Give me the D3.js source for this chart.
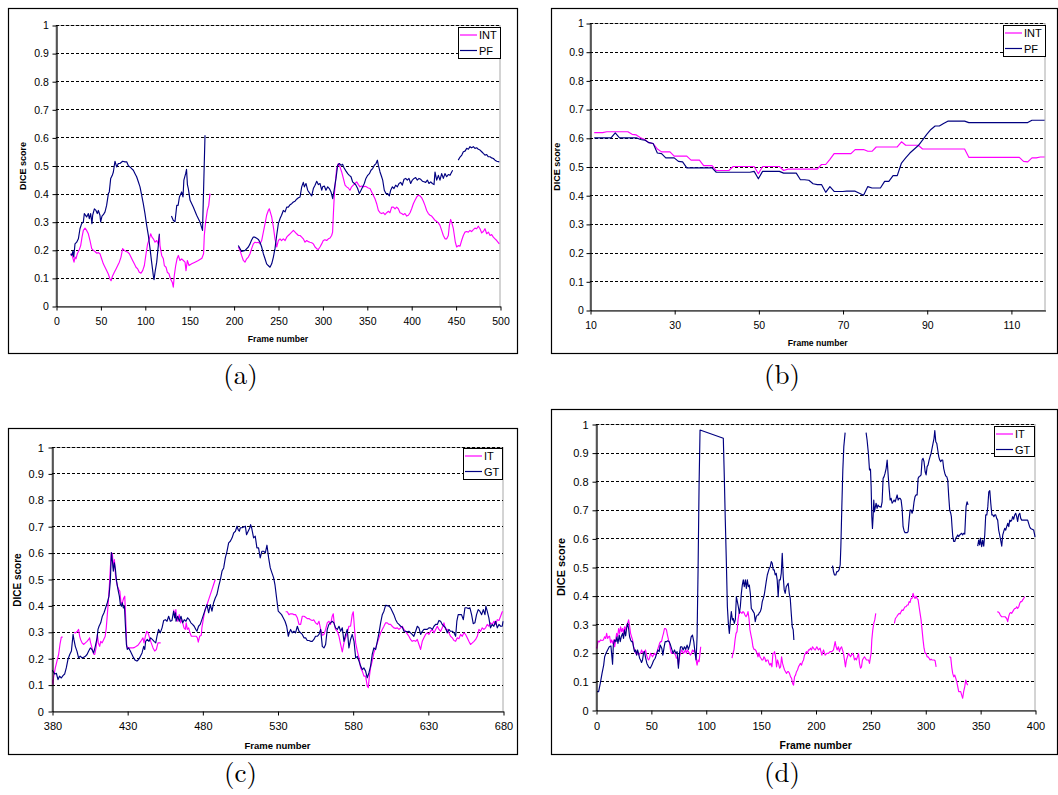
<!DOCTYPE html>
<html><head><meta charset="utf-8">
<script src="https://cdn.jsdelivr.net/npm/d3@7"></script>
<style>
html,body{margin:0;padding:0;background:#fff;}
svg{display:block;}
</style></head>
<body>
<svg id="chart" width="1058" height="795"></svg>
<script>
// ---------- tick labels / categories ----------
const yTickValues = [0,0.1,0.2,0.3,0.4,0.5,0.6,0.7,0.8,0.9,1];
const yTickLabels = ["0","0.1","0.2","0.3","0.4","0.5","0.6","0.7","0.8","0.9","1"];
const xTicksA = [0,50,100,150,200,250,300,350,400,450,500];
const xTicksB = [10,30,50,70,90,110];
const xTicksC = [380,430,480,530,580,630,680];
const xTicksD = [0,50,100,150,200,250,300,350,400];
const legendAB = ["INT","PF"];
const legendCD = ["IT","GT"];
const captions = ["(a)","(b)","(c)","(d)"];
const xTitle = "Frame number";
const yTitle = "DICE score";

// ---------- panel (a): [frame, DICE] pairs, null = gap ----------
const aINT = [[16.5,0.18],[17.6,0.186],[18.7,0.174],[20.3,0.156],[21.4,0.174],[22.5,0.168],[24,0.186],[25.9,0.198],[27.8,0.215],[29.3,0.245],[30.8,0.269],[32.7,0.277],[34.5,0.269],[36.4,0.257],[38.3,0.233],[40.2,0.204],[42,0.198],[43.9,0.194],[45.8,0.188],[47.7,0.19],[49.5,0.186],[51.4,0.168],[53.3,0.15],[55.2,0.138],[57,0.126],[58.9,0.114],[60.8,0.096],[62,0.09],[63.8,0.108],[65.7,0.12],[67.6,0.132],[69.5,0.144],[71.3,0.156],[73.2,0.174],[75,0.204],[76.9,0.198],[78.8,0.194],[80.7,0.192],[82.6,0.186],[84.4,0.174],[86.3,0.162],[88.2,0.15],[90.1,0.138],[92,0.132],[93.8,0.12],[95.7,0.117],[97.6,0.126],[99.5,0.144],[101.4,0.186],[103.2,0.221],[105.1,0.239],[106.6,0.257],[108.1,0.245],[109.6,0.239],[111.5,0.227],[113.4,0.233],[115.2,0.221],[116.4,0.251],[117.1,0.215],[119,0.18],[120.9,0.168],[122,0.144],[123.9,0.138],[125.4,0.12],[127.3,0.114],[129,0.096],[131,0.084],[132.1,0.067],[133.2,0.108],[134.8,0.144],[136.3,0.168],[137.8,0.18],[139.6,0.162],[141.5,0.168],[143.4,0.162],[145.3,0.156],[146.4,0.126],[147.9,0.162],[149.8,0.144],[152.8,0.15],[156.5,0.156],[160.3,0.162],[164.3,0.17],[166.2,0.186],[167,0.251],[168.5,0.299],[170.4,0.34],[172,0.358],[173.4,0.4],
null,
[205.3,0.21],[207.2,0.198],[209,0.18],[211,0.162],[212.8,0.156],[214.7,0.168],[216.6,0.174],[218.5,0.186],[220.3,0.204],[222.2,0.221],[224.1,0.227],[226,0.225],[227.9,0.227],[229.7,0.221],[231.6,0.233],[233.5,0.263],[235.4,0.293],[237.2,0.323],[239.1,0.34],[240.2,0.346],[242.9,0.317],[244.8,0.281],[246.6,0.239],[248.5,0.21],[250.4,0.233],[252.3,0.239],[254,0.233],[256,0.239],[258,0.233],[259.8,0.245],[261.6,0.251],[263.5,0.257],[265.4,0.263],[267.3,0.269],[269.2,0.263],[271,0.257],[273,0.251],[274.8,0.251],[276.7,0.245],[278.5,0.239],[280.4,0.227],[282.3,0.233],[284.2,0.229],[286,0.227],[288,0.225],[289.8,0.221],[291.7,0.21],[293.6,0.204],[295.4,0.201],[297.3,0.21],[299.2,0.221],[301,0.233],[302.9,0.236],[304.8,0.233],[306.7,0.239],[308.6,0.242],[310.4,0.251],[311.5,0.263],[312.3,0.323],[313.4,0.394],[315,0.454],[316,0.489],[318,0.507],[319.8,0.495],[321.7,0.477],[323.6,0.454],[325.5,0.43],[327.3,0.424],[329.2,0.42],[331,0.412],[332.9,0.424],[334.8,0.43],[336.7,0.436],[338.6,0.442],[340.5,0.432],[342.3,0.424],[344.2,0.427],[346,0.424],[348,0.426],[349.8,0.424],[351.7,0.42],[353.6,0.418],[355.5,0.406],[357.3,0.394],[359.2,0.382],[361.1,0.364],[363,0.34],[364.9,0.332],[366.7,0.329],[368.6,0.332],[370.5,0.325],[372.4,0.332],[374.3,0.337],[376.1,0.332],[378,0.352],[379.9,0.352],[381.8,0.346],[383.6,0.352],[385.5,0.346],[387.4,0.332],[389.3,0.329],[391.1,0.325],[393,0.329],[394.9,0.32],[396.8,0.323],[398.7,0.332],[400.5,0.346],[402.4,0.364],[404.3,0.376],[406.2,0.388],[408,0.394],[409.9,0.392],[411.8,0.385],[413.7,0.373],[415.5,0.358],[417.4,0.34],[419.3,0.329],[421.2,0.323],[423,0.32],[424.9,0.313],[426.8,0.305],[428.7,0.301],[430.6,0.296],[432.4,0.287],[434.3,0.269],[436.2,0.251],[438.1,0.239],[440,0.239],[441.8,0.251],[443,0.287],[444.4,0.308],[446,0.293],[447.5,0.275],[448.6,0.251],[449.7,0.227],[451.2,0.21],[453,0.215],[455,0.213],[456.8,0.233],[458.7,0.251],[460.6,0.263],[462.4,0.265],[464.3,0.263],[466.2,0.269],[468,0.265],[470,0.272],[471.8,0.277],[473.7,0.275],[475.6,0.284],[477.5,0.275],[479.4,0.26],[481.2,0.265],[483.1,0.275],[485,0.257],[486.9,0.263],[488.8,0.251],[490.6,0.254],[492.5,0.245],[494.4,0.239],[496.3,0.233],[499.2,0.221]];

const aPF = [[16.5,0.186],[18,0.18],[19,0.195],[20,0.175],[21.4,0.221],[23.3,0.227],[25.2,0.239],[27,0.275],[28.9,0.293],[30.8,0.299],[31.9,0.329],[34.5,0.317],[36.4,0.329],[37.5,0.311],[39,0.329],[40.5,0.293],[41.3,0.323],[43.2,0.346],[45,0.34],[46.5,0.329],[47.7,0.34],[49.5,0.323],[50.3,0.299],[51.8,0.32],[53.3,0.325],[55.2,0.335],[57,0.358],[59,0.4],[60,0.406],[61.6,0.454],[63.4,0.465],[64.6,0.477],[66.4,0.515],[68.3,0.495],[70.2,0.507],[72,0.507],[75,0.515],[77.7,0.513],[79.6,0.513],[81.5,0.499],[83.3,0.495],[85.2,0.489],[87.1,0.483],[89,0.471],[90.8,0.46],[92.7,0.442],[94.6,0.424],[96.5,0.394],[98.3,0.364],[100.2,0.329],[102.1,0.287],[104,0.251],[105.9,0.204],[107.7,0.156],[109.6,0.108],[110.4,0.094],[111.5,0.12],[113.4,0.156],[115.2,0.215],[116.4,0.257],
null,
[130,0.32],[132,0.305],[134,0.3],[136,0.358],[137.5,0.358],[139,0.388],[141.5,0.406],[143,0.388],[144,0.448],[146,0.471],[147,0.486],[148,0.432],[149,0.418],[151,0.376],[154.6,0.352],[158.4,0.323],[162,0.3],[165,0.269],[167.8,0.608],
null,
[205.3,0.215],[209,0.194],[213,0.198],[216.6,0.21],[218.5,0.221],[220,0.233],[222,0.245],[224,0.245],[226,0.241],[227.9,0.237],[229.7,0.227],[231.6,0.21],[233.5,0.186],[235.4,0.168],[237.2,0.15],[239,0.144],[241,0.138],[242.9,0.15],[244.8,0.174],[246.6,0.204],[248.5,0.251],[250.4,0.293],[252.3,0.311],[254,0.323],[256,0.34],[258,0.335],[259.8,0.352],[261.6,0.352],[263.5,0.36],[265.4,0.364],[267.3,0.37],[269.2,0.373],[271,0.38],[273,0.385],[274.8,0.388],[276.7,0.424],[278.5,0.44],[279.7,0.424],[281.5,0.436],[283.4,0.412],[286,0.4],[288,0.392],[289.8,0.418],[291.7,0.43],[293.6,0.444],[295.4,0.432],[297.3,0.436],[299.2,0.412],[300.3,0.424],[302.2,0.427],[304,0.412],[306,0.424],[307.8,0.418],[309.7,0.406],[311.6,0.382],[313.5,0.418],[315.3,0.454],[317.2,0.501],[319,0.507],[321,0.501],[322.8,0.504],[324.3,0.492],[326.6,0.48],[328.5,0.471],[330.3,0.465],[332.2,0.46],[334,0.442],[336,0.436],[337.8,0.43],[339.7,0.418],[341.6,0.4],[343.5,0.412],[345.4,0.424],[347.2,0.436],[349,0.454],[351,0.465],[352.9,0.471],[354.7,0.483],[356.6,0.489],[358.5,0.501],[360.4,0.507],[361.9,0.519],[363,0.501],[364.9,0.477],[366.7,0.46],[367.9,0.448],[369.7,0.412],[371.6,0.4],[373.5,0.4],[375.4,0.392],[376.9,0.412],[378.8,0.424],[380.6,0.418],[382.5,0.43],[384.4,0.424],[386.3,0.436],[388.1,0.44],[390,0.43],[391.9,0.451],[393.8,0.454],[395.6,0.448],[397.5,0.454],[399.4,0.436],[401.3,0.448],[403.2,0.454],[405,0.457],[406.9,0.448],[408.8,0.454],[410.7,0.451],[412.6,0.444],[414.4,0.442],[416.3,0.44],[418.2,0.448],[420,0.436],[422,0.442],[423.8,0.436],[425.7,0.432],[426.8,0.477],[428.7,0.448],[430.6,0.465],[432.4,0.448],[434.3,0.471],[436.2,0.454],[438,0.471],[440,0.46],[441.8,0.468],[443.7,0.465],[445.6,0.477],[446.7,0.483],
null,
[453,0.519],[455,0.53],[457,0.537],[458.7,0.549],[460.6,0.551],[462.5,0.561],[464.4,0.558],[466.2,0.567],[468,0.563],[470,0.567],[471.8,0.561],[473.7,0.563],[475.6,0.558],[477.5,0.555],[479.4,0.549],[481.2,0.543],[483.1,0.537],[485,0.539],[486.9,0.531],[488.8,0.531],[490.6,0.527],[492.5,0.525],[494.4,0.519],[496.3,0.515],[499.2,0.513]];

// ---------- panel (b): one value per frame ----------
const bFrames = [11,12,13,14,15,16,17,18,19,20,21,22,23,24,25,26,27,28,29,30,31,32,33,34,35,36,37,38,39,40,41,42,43,44,45,46,47,48,49,50,51,52,53,54,55,56,57,58,59,60,61,62,63,64,65,66,67,68,69,70,71,72,73,74,75,76,77,78,79,80,81,82,83,84,85,86,87,88,89,90,91,92,93,94,95,96,97,98,99,100,101,102,103,104,105,106,107,108,109,110,111,112,113,114,115,116,117,118];
const bINT = [0.618,0.618,0.618,0.621,0.621,0.621,0.621,0.621,0.621,0.612,0.61,0.6,0.594,0.583,0.58,0.561,0.551,0.551,0.551,0.536,0.536,0.536,0.536,0.522,0.522,0.522,0.503,0.503,0.503,0.486,0.486,0.486,0.486,0.5,0.5,0.5,0.5,0.5,0.5,0.475,0.5,0.5,0.5,0.5,0.5,0.486,0.491,0.491,0.491,0.491,0.491,0.491,0.491,0.491,0.507,0.507,0.525,0.545,0.545,0.545,0.545,0.545,0.559,0.559,0.559,0.553,0.553,0.568,0.568,0.568,0.568,0.568,0.568,0.586,0.574,0.574,0.574,0.574,0.561,0.561,0.561,0.561,0.561,0.561,0.561,0.561,0.561,0.561,0.561,0.532,0.532,0.532,0.532,0.532,0.532,0.532,0.532,0.532,0.532,0.532,0.532,0.532,0.518,0.516,0.53,0.53,0.533,0.533];
const bPF = [0.6,0.6,0.6,0.6,0.6,0.617,0.6,0.6,0.6,0.6,0.6,0.594,0.592,0.583,0.58,0.547,0.545,0.53,0.53,0.53,0.518,0.516,0.495,0.495,0.495,0.495,0.495,0.495,0.495,0.48,0.48,0.48,0.48,0.48,0.48,0.48,0.48,0.48,0.483,0.457,0.483,0.483,0.483,0.483,0.483,0.477,0.477,0.477,0.477,0.454,0.454,0.452,0.44,0.437,0.437,0.41,0.43,0.413,0.413,0.413,0.414,0.414,0.414,0.407,0.4,0.43,0.425,0.425,0.425,0.448,0.448,0.468,0.468,0.512,0.53,0.547,0.56,0.573,0.592,0.612,0.629,0.641,0.641,0.65,0.658,0.658,0.658,0.658,0.658,0.653,0.653,0.653,0.653,0.653,0.653,0.653,0.653,0.653,0.653,0.653,0.653,0.653,0.653,0.653,0.661,0.661,0.661,0.661];

// ---------- panel (c) ----------
const cIT = [[380,0.119],[380.7,0.1],[381,0.125],[382.2,0.163],[383.3,0.189],[384.4,0.214],[385.3,0.252],[386.2,0.28],[387.1,0.28],
null,
[394.6,0.298],[395.7,0.296],[396.9,0.302],[397.7,0.309],[398.4,0.283],[399,0.271],[400,0.258],[401,0.252],[402.2,0.258],[403.3,0.264],[404.4,0.271],[405,0.277],[405.7,0.258],[406.6,0.239],[407.7,0.216],[408.4,0.214],[409.3,0.239],[410.2,0.29],[410.8,0.258],[411.7,0.245],[412.4,0.264],[413.3,0.258],[414.4,0.271],[415.4,0.283],[416.1,0.315],[416.8,0.365],[417.5,0.416],[418.2,0.479],[418.8,0.542],[419.5,0.6],[420.2,0.593],[420.8,0.542],[421.5,0.574],[422.2,0.517],[422.8,0.492],[423.5,0.473],[424.4,0.46],[425.1,0.454],[425.8,0.416],[426.5,0.403],[427.1,0.416],[427.7,0.428],[428.4,0.435],[429,0.353],[429.7,0.245],[430.6,0.239],[431.7,0.239],[432.8,0.239],[433.9,0.239],[435,0.241],[436.1,0.245],[437.2,0.249],[438.3,0.258],[439.4,0.267],[440.5,0.277],[441.2,0.258],[442.1,0.283],[443,0.302],[443.9,0.296],[444.9,0.277],[446,0.258],[447.2,0.239],[448.3,0.227],[449.4,0.233],[450.5,0.258],[451.6,0.258],[452.3,0.258],
null,
[460.9,0.384],[461.8,0.359],[462.4,0.384],[462.7,0.353],[463.6,0.34],[464.6,0.365],[465.5,0.334],[466.4,0.346],[467.8,0.315],[468.7,0.309],[469.3,0.334],[470,0.309],[470.9,0.315],[471.8,0.296],[472.7,0.283],[473.8,0.283],[474.9,0.283],[476,0.283],[476.7,0.277],[477.3,0.261],[478.2,0.283],[479.3,0.287],[479.7,0.315],[480.8,0.353],[481.9,0.384],[483.1,0.403],[484.2,0.422],[485.3,0.441],[486.4,0.46],[487.5,0.479],[488.6,0.498],
null,
[535.4,0.376],[536.5,0.376],[537.6,0.365],[538.7,0.368],[539.8,0.368],[540.9,0.365],[542,0.365],[543.2,0.353],[544.3,0.328],[545.4,0.328],[546.5,0.359],[547.6,0.359],[548.7,0.355],[549.8,0.35],[550.9,0.35],[552,0.346],[553.1,0.343],[554.2,0.345],[555.3,0.334],[556.5,0.328],[557.6,0.34],[558.7,0.309],[559.8,0.287],[560.9,0.29],[562,0.309],[563.1,0.334],[564.2,0.34],[565.3,0.328],[566.4,0.359],[567.1,0.368],[567.8,0.328],[568.6,0.309],[569.8,0.302],[570.9,0.283],[572,0.252],[573.1,0.224],[574.2,0.258],[575.3,0.277],[576.4,0.296],[577.5,0.321],[578.6,0.321],[579.7,0.365],[580.4,0.376],[581.1,0.321],[582,0.258],[583.1,0.227],[584.2,0.201],[585.3,0.163],[586.4,0.151],[587.5,0.132],[588.6,0.132],[589.7,0.094],[590.4,0.088],[591,0.126],[591.9,0.163],[593,0.189],[594.1,0.22],[595.3,0.239],[596.4,0.258],[597.5,0.277],[598.6,0.296],[599.7,0.309],[600.8,0.321],[601.9,0.334],[603,0.334],[604.1,0.328],[605.2,0.328],[606.3,0.321],[607.4,0.315],[608.6,0.313],[609.7,0.315],[610.8,0.309],[611.9,0.315],[613,0.321],[614.1,0.309],[615.2,0.302],[616.3,0.292],[617.4,0.283],[618.5,0.271],[619.6,0.264],[620.7,0.267],[621.9,0.264],[623,0.271],[624.1,0.252],[625.2,0.233],[626.3,0.264],[627.4,0.277],[628.5,0.29],[629.6,0.296],[630.7,0.29],[631.8,0.302],[633,0.309],[634.1,0.296],[635.2,0.309],[636.3,0.321],[637.4,0.309],[638.5,0.302],[639.6,0.315],[640.7,0.334],[641.8,0.309],[643,0.309],[644,0.296],[645.1,0.283],[646.3,0.277],[647.4,0.267],[648.5,0.264],[649.6,0.277],[650.7,0.274],[651.8,0.29],[652.9,0.283],[654,0.296],[655.1,0.29],[656.2,0.277],[657.3,0.264],[658.4,0.252],[659.6,0.258],[660.7,0.264],[661.8,0.271],[662.9,0.283],[664,0.309],[665.1,0.302],[666.2,0.315],[667.3,0.309],[668.4,0.315],[669.5,0.328],[670.6,0.321],[671.7,0.334],[672.8,0.328],[674,0.34],[675.1,0.328],[676.2,0.346],[677.3,0.343],[678.4,0.359],[679.5,0.376],[680,0.376]];

const cGT = [[380,0.155],[380.7,0.15],[381.8,0.14],[382.9,0.143],[384,0.119],[385,0.132],[386.2,0.125],[387.3,0.134],[388.4,0.14],[389.5,0.163],[390.6,0.195],[391.8,0.214],[392.9,0.227],[394,0.29],[394.6,0.27],[395.5,0.245],[396.6,0.227],[397.7,0.201],[398.8,0.208],[400,0.201],[401.1,0.204],[402.2,0.207],[403.3,0.214],[404.4,0.227],[405.5,0.239],[406.6,0.233],[407.7,0.22],[408.8,0.245],[410,0.277],[410.6,0.309],[411.3,0.321],[412.4,0.334],[413.5,0.359],[414.6,0.372],[415.7,0.391],[416.8,0.41],[417.9,0.435],[418.8,0.492],[419.5,0.6],[420.2,0.567],[420.8,0.53],[421.5,0.561],[422.2,0.536],[422.8,0.498],[423.5,0.473],[424.1,0.454],[424.8,0.435],[425.5,0.403],[426.2,0.397],[426.8,0.41],[427.5,0.39],[428.2,0.397],[428.8,0.328],[429.5,0.252],[430.1,0.233],[431,0.239],[432.1,0.227],[433.2,0.214],[434.3,0.201],[435.4,0.192],[436.5,0.189],[437.6,0.195],[438.8,0.207],[439.9,0.22],[441,0.245],[441.7,0.233],[442.3,0.264],[443.4,0.271],[444.5,0.264],[445.6,0.277],[446.7,0.271],[447.9,0.264],[449,0.258],[449.8,0.283],[450.9,0.309],[452,0.296],[453.2,0.315],[454.3,0.343],[455.4,0.346],[456.5,0.34],[457.6,0.359],[458.7,0.34],[459.8,0.343],[460.9,0.378],[461.6,0.353],[462.2,0.372],[462.5,0.34],[463.6,0.359],[464.7,0.34],[465.8,0.359],[466.9,0.334],[468,0.346],[469.1,0.34],[470.2,0.353],[471.3,0.346],[472.4,0.334],[473.5,0.328],[474.6,0.321],[475.7,0.309],[476.4,0.302],[477.5,0.321],[478.6,0.328],[479.7,0.346],[480.8,0.365],[481.9,0.384],[483.1,0.403],[484.2,0.372],[485.3,0.403],[486.4,0.378],[487.5,0.41],[488.6,0.428],[489.7,0.441],[490.9,0.473],[492,0.498],[493.1,0.53],[494.2,0.542],[495.3,0.58],[496.4,0.605],[497.5,0.637],[498.6,0.643],[499.8,0.656],[500.9,0.675],[502,0.681],[503.1,0.7],[503.8,0.687],[504.6,0.681],[505.3,0.694],[506.4,0.694],[507.5,0.697],[508.6,0.7],[509.4,0.668],[510.5,0.681],[511.6,0.694],[512.1,0.706],[512.8,0.694],[514.1,0.656],[515.2,0.662],[516.3,0.618],[517.4,0.618],[518.5,0.58],[519.6,0.605],[520.8,0.605],[521.9,0.599],[523,0.628],[524.1,0.58],[525.2,0.542],[526.3,0.523],[527.4,0.505],[528.3,0.479],[529.4,0.428],[530.5,0.378],[531.6,0.372],[532.7,0.365],[533.8,0.353],[535,0.34],[536.1,0.321],[537.2,0.283],[537.8,0.296],[538.7,0.309],[539.8,0.296],[540.9,0.302],[542,0.296],[543.2,0.321],[544.3,0.302],[545.4,0.296],[546.5,0.29],[547.6,0.277],[548.7,0.277],[549.8,0.267],[550.9,0.267],[552,0.264],[553.1,0.264],[554.2,0.271],[555.3,0.283],[556.5,0.283],[557.6,0.29],[558.7,0.309],[559.8,0.245],[560.9,0.239],[562,0.252],[563.1,0.309],[564.2,0.328],[565.3,0.334],[566.4,0.34],[567.5,0.334],[568.6,0.315],[569.8,0.309],[570.9,0.321],[572,0.302],[573.1,0.315],[574.2,0.264],[575.3,0.29],[576.4,0.309],[577.5,0.239],[578.6,0.271],[579.7,0.29],[580.9,0.264],[582,0.201],[583.1,0.207],[584.2,0.189],[585.3,0.17],[586.4,0.157],[587.5,0.163],[588.6,0.151],[589.7,0.126],[590.8,0.144],[591.9,0.17],[593,0.214],[594.1,0.239],[595.3,0.233],[596.4,0.264],[597.5,0.296],[598.6,0.334],[599.7,0.365],[600.8,0.378],[601.9,0.4],[603,0.399],[604.1,0.397],[605.2,0.391],[606.3,0.378],[607.4,0.365],[608.6,0.346],[609.7,0.334],[610.8,0.328],[611.9,0.321],[613,0.318],[614.1,0.302],[615.2,0.302],[616.3,0.3],[617.4,0.302],[618.5,0.296],[619.6,0.29],[620.7,0.283],[621.9,0.302],[623,0.321],[624.1,0.315],[625.2,0.29],[626.3,0.302],[627.4,0.309],[628.5,0.309],[629.6,0.309],[630.7,0.315],[631.8,0.315],[633,0.309],[634.1,0.321],[635.2,0.328],[636.3,0.328],[637.4,0.343],[638.5,0.34],[639.6,0.328],[640.7,0.321],[641.8,0.315],[642.9,0.296],[644,0.309],[645.1,0.302],[646.3,0.302],[647.4,0.296],[648.5,0.283],[649.3,0.34],[650.2,0.365],[651.3,0.365],[652.4,0.365],[653.6,0.346],[654.7,0.391],[655.8,0.391],[656.9,0.388],[658,0.391],[659.1,0.365],[660.2,0.331],[661.3,0.334],[662.4,0.365],[663.5,0.384],[664.6,0.378],[665.8,0.365],[666.9,0.384],[668,0.365],[668.6,0.397],[669.5,0.378],[670.6,0.353],[671.7,0.315],[672.8,0.328],[673.9,0.321],[675.1,0.34],[676.2,0.315],[677.3,0.328],[678.4,0.321],[679.5,0.321],[680,0.34]];

// ---------- panel (d) ----------
const dIT = [[0,0.22],[0.9,0.216],[1.8,0.241],[3,0.238],[4.2,0.245],[5.5,0.243],[6.7,0.245],[7.9,0.256],[8.8,0.25],[9.7,0.268],[10.6,0.25],[11.5,0.256],[12.4,0.258],[13.3,0.235],[14.2,0.245],[15.2,0.233],[16.1,0.245],[17,0.221],[17.9,0.245],[18.8,0.268],[19.7,0.256],[20.6,0.285],[21.5,0.268],[22.4,0.291],[23.3,0.274],[24.2,0.285],[25.1,0.268],[26,0.291],[27,0.28],[27.9,0.297],[28.8,0.303],[29.7,0.315],[30.6,0.294],[31.5,0.268],[32.4,0.256],[33.3,0.245],[34.2,0.221],[35.1,0.21],[36.1,0.198],[37,0.204],[37.9,0.198],[38.8,0.192],[39.7,0.198],[40.6,0.198],[41.5,0.21],[42.4,0.2],[43.3,0.204],[44.2,0.204],[45.1,0.21],[46.1,0.192],[47,0.181],[47.9,0.175],[48.8,0.181],[49.7,0.198],[50.6,0.192],[51.5,0.186],[52.4,0.192],[53.3,0.198],[54.2,0.192],[55.2,0.198],[56.1,0.21],[57,0.221],[57.9,0.233],[58.8,0.239],[59.7,0.239],[60.6,0.256],[61.5,0.268],[62.4,0.285],[63.3,0.285],[64.2,0.28],[65.1,0.262],[66.1,0.245],[67,0.233],[67.9,0.21],[68.8,0.198],[69.7,0.204],[70.6,0.198],[71.5,0.198],[72.4,0.192],[73.3,0.181],[74.2,0.186],[75.1,0.157],[76.1,0.186],[77,0.198],[77.9,0.21],[78.8,0.204],[79.7,0.198],[80.6,0.204],[81.5,0.21],[82.4,0.198],[83.3,0.21],[84.2,0.204],[85.1,0.198],[86.1,0.192],[87,0.198],[87.9,0.21],[88.8,0.204],[89.7,0.21],[90.6,0.198],[91.2,0.175],[92.1,0.157],[93,0.175],[93.9,0.169],[94.8,0.198],[95.4,0.221],
null,
[123.9,0.181],[124.8,0.198],[125.7,0.21],[126.7,0.245],[127.6,0.268],[128.5,0.274],[129.4,0.315],[130.3,0.338],[131.2,0.344],[132.1,0.341],[133,0.338],[133.9,0.344],[134.8,0.341],[135.7,0.332],[136.7,0.326],[137.6,0.332],[138.5,0.344],[139.4,0.32],[140.3,0.28],[141.2,0.262],[142.1,0.245],[143,0.221],[143.9,0.212],[144.8,0.212],[145.8,0.207],[146.7,0.198],[147.6,0.186],[148.5,0.2],[149.4,0.186],[150.3,0.181],[151.2,0.175],[152.1,0.175],[153,0.186],[153.9,0.181],[154.8,0.169],[155.8,0.175],[156.7,0.175],[157.6,0.163],[158.5,0.157],[159.4,0.163],[160.3,0.151],[161.2,0.198],[162.1,0.198],[162.7,0.204],[163.6,0.186],[164.5,0.151],[165.4,0.175],[166.3,0.163],[167.3,0.146],[168.2,0.151],[169.1,0.186],[170,0.163],[170.9,0.151],[171.8,0.14],[172.7,0.134],[173.6,0.128],[174.5,0.134],[175.4,0.134],[176.3,0.128],[177.3,0.116],[178.2,0.111],[179.1,0.093],[180,0.087],[180.9,0.116],[181.8,0.122],[182.7,0.134],[183.6,0.14],[184.5,0.151],[185.4,0.157],[186.3,0.163],[187.3,0.157],[188.2,0.169],[189.1,0.175],[190,0.192],[190.9,0.198],[191.8,0.204],[192.7,0.198],[193.6,0.21],[194.5,0.21],[195.4,0.216],[196.4,0.21],[197.3,0.221],[198.2,0.216],[199,0.212],[199.7,0.21],[201.2,0.221],[202.7,0.21],[204.2,0.216],[205.8,0.192],[207.3,0.21],[208.8,0.192],[210.3,0.198],[211.8,0.198],[213.3,0.204],[214.9,0.204],[216.4,0.21],[217.9,0.239],[218.8,0.221],[219.7,0.21],[220.9,0.221],[221.8,0.204],[222.8,0.216],[223.7,0.221],[224.6,0.21],[225.5,0.198],[226.4,0.175],[227.3,0.151],[228.2,0.175],[229.1,0.186],[230,0.198],[231,0.192],[231.9,0.186],[232.8,0.192],[233.7,0.198],[234.6,0.192],[235.5,0.175],[236.4,0.181],[237.3,0.175],[238.2,0.186],[239.2,0.198],[240.1,0.163],[241,0.146],[241.9,0.151],[242.8,0.175],[243.7,0.181],[244.6,0.186],[245.5,0.181],[246.4,0.175],[247.4,0.175],[248.3,0.175],[249.2,0.163],[250.1,0.186],[250.7,0.198],[251.3,0.245],[252.2,0.28],[253.1,0.303],[254,0.315],[254.9,0.338],
null,
[271.9,0.303],[272.8,0.32],[274,0.326],[274.9,0.332],[276.2,0.338],[277.1,0.336],[278,0.344],[278.9,0.35],[279.8,0.348],[280.7,0.355],[281.6,0.361],[282.5,0.361],[283.5,0.367],[284.4,0.367],[285.3,0.379],[286.2,0.376],[287.1,0.39],[288,0.39],[288.9,0.408],[289.8,0.396],[290.7,0.39],[291.7,0.398],[292.6,0.39],[293.5,0.385],[294.4,0.361],[295.3,0.338],[296.2,0.315],[297.1,0.28],[298,0.245],[298.9,0.216],[299.9,0.198],[300.8,0.198],[301.7,0.186],[302.6,0.186],[303.5,0.181],[304.4,0.175],[305.3,0.178],[306.2,0.175],[307.1,0.175],[308.1,0.175],[309,0.172],[309.9,0.151],
null,
[322,0.186],[323.2,0.184],[324.1,0.151],[325,0.128],[326,0.116],[326.9,0.122],[327.8,0.111],[328.7,0.099],[329.6,0.082],[330.5,0.064],[331.4,0.064],[332.3,0.064],[333.2,0.052],[334.1,0.041],[335,0.064],[336,0.082],[336.9,0.105],[337.8,0.093],[338.7,0.087],
null,
[365.7,0.344],[367.2,0.341],[368.4,0.332],[369.7,0.326],[371.2,0.326],[372.7,0.326],[374.2,0.32],[375.1,0.309],[376,0.326],[376.9,0.338],[377.9,0.341],[378.8,0.338],[379.7,0.344],[380.6,0.35],[381.5,0.355],[382.4,0.355],[383.3,0.361],[384.2,0.355],[385.2,0.361],[386.1,0.373],[387,0.379],[387.9,0.379],[388.8,0.385],[389.7,0.39],[390.6,0.396]];

const dGT = [[0.9,0.064],[2.4,0.064],[3.9,0.093],[5.5,0.128],[7,0.157],[7.9,0.186],[9.1,0.198],[10.6,0.21],[12.1,0.221],[13.6,0.224],[15.1,0.16],[15.8,0.228],[17,0.245],[18.2,0.239],[19.1,0.256],[20,0.233],[21.2,0.262],[22.1,0.239],[23,0.256],[24.2,0.268],[25.1,0.25],[26,0.28],[27,0.259],[27.9,0.285],[28.8,0.303],[29.7,0.285],[30.6,0.256],[31.5,0.245],[32.4,0.239],[33.3,0.239],[34.2,0.221],[35.1,0.204],[36.1,0.21],[37,0.192],[37.9,0.21],[38.8,0.198],[39.7,0.181],[40.6,0.175],[41.5,0.166],[42.4,0.175],[43.3,0.198],[44.2,0.204],[45.1,0.184],[46.4,0.163],[47.9,0.151],[49.4,0.146],[50.9,0.157],[52.4,0.172],[53.9,0.181],[55.4,0.198],[56.4,0.21],[57.6,0.204],[58.5,0.227],[60,0.215],[60.9,0.192],[62.1,0.221],[63,0.239],[64.2,0.239],[65.4,0.242],[66.7,0.239],[67.9,0.227],[69.1,0.212],[70.3,0.198],[71.5,0.21],[72.7,0.198],[73.9,0.204],[75.1,0.146],[76.1,0.198],[77,0.221],[78.2,0.221],[79.4,0.21],[80.6,0.221],[81.8,0.212],[83,0.227],[84.2,0.212],[85.4,0.227],[86.7,0.256],[87.9,0.262],[89.1,0.239],[90.3,0.198],[91.2,0.175],[92.1,0.256],[93,0.49],[93.9,0.781],[94.8,0.979],[116,0.95],[116.9,0.816],[117.8,0.664],[118.8,0.513],[119.7,0.361],[120.6,0.303],[121.5,0.268],[122.4,0.31],[123.3,0.344],[124.3,0.315],[125.1,0.32],[126,0.303],[127,0.317],[127.9,0.396],[128.8,0.379],[129.7,0.361],[130.6,0.338],[131.5,0.361],[132.4,0.406],[133.3,0.437],[134.2,0.455],[135.1,0.431],[136.1,0.455],[137,0.425],[137.9,0.455],[138.8,0.431],[139.7,0.437],[140.6,0.408],[141.5,0.355],[142.4,0.35],[143.3,0.344],[144.2,0.338],[145.1,0.309],[146,0.326],[147,0.332],[147.9,0.332],[148.8,0.34],[149.7,0.344],[150.6,0.355],[151.5,0.379],[152.4,0.39],[153.3,0.402],[154.2,0.425],[155.1,0.449],[156.1,0.472],[157,0.484],[157.9,0.495],[158.8,0.501],[159.7,0.519],[160.6,0.513],[161.5,0.49],[162.4,0.49],[163.3,0.472],[164.2,0.478],[165.1,0.455],[166,0.396],[166.9,0.455],[167.9,0.455],[168.8,0.478],[169.7,0.548],[170.6,0.466],[171.5,0.42],[172.4,0.408],[173.3,0.431],[174.2,0.437],[175.1,0.443],[176.1,0.408],[177,0.39],[177.9,0.338],[178.8,0.291],[179.7,0.28],[180.3,0.245],
null,
[215.5,0.505],[216.4,0.484],[217.3,0.472],[218.5,0.472],[219.4,0.484],[220.3,0.484],[221.5,0.49],[222.5,0.507],[223.1,0.571],[224,0.711],[224.9,0.839],[225.8,0.921],[227,0.97],
null,
[246.1,0.97],[247,0.944],[248.2,0.897],[249.2,0.839],[250.1,0.842],[250.7,0.781],[251.3,0.676],[251.9,0.635],[252.5,0.676],[253.1,0.734],[253.7,0.693],[254.3,0.705],[255.2,0.723],[256.1,0.705],[257,0.717],[258,0.711],[258.9,0.711],[259.8,0.709],[260.7,0.728],[261.6,0.81],[262.5,0.816],[263.4,0.828],[264.4,0.845],[265.3,0.874],[266.2,0.822],[267.1,0.775],[268,0.734],[268.9,0.74],[269.8,0.723],[270.7,0.728],[271.6,0.734],[272.6,0.728],[273.5,0.74],[274.4,0.752],[275.3,0.734],[276.2,0.74],[277.1,0.74],[278,0.734],[278.9,0.705],[279.8,0.641],[280.7,0.627],[281.6,0.62],[282.5,0.62],[283.5,0.62],[284.4,0.624],[285.3,0.664],[286.2,0.699],[287.1,0.699],[288,0.688],[288.9,0.699],[289.8,0.728],[290.7,0.746],[291.7,0.752],[292.6,0.752],[293.5,0.81],[294.4,0.816],[295.3,0.818],[296.2,0.822],[297.1,0.874],[298,0.88],[298.9,0.868],[299.9,0.833],[300.8,0.822],[301.7,0.851],[302.6,0.857],[303.5,0.874],[304.4,0.886],[305.3,0.897],[306.2,0.915],[307.1,0.932],[308,0.95],[308.7,0.977],[309.6,0.938],[310.5,0.932],[311.4,0.909],[312.3,0.886],[313.2,0.874],[314.1,0.868],[315,0.874],[315.9,0.874],[316.8,0.845],[317.8,0.828],[318.7,0.818],[319.6,0.816],[320.5,0.804],[321.4,0.746],[322.3,0.699],[323.2,0.688],[323.8,0.676],[324.4,0.641],[325.1,0.606],[326,0.589],[326.9,0.589],[327.8,0.6],[328.7,0.606],[329.6,0.612],[330.5,0.606],[331.4,0.612],[333.2,0.618],[334.1,0.612],[335,0.618],[336,0.615],[336.6,0.664],[337.2,0.711],[338.1,0.728],[339,0.717],
null,
[347.8,0.573],[348.7,0.594],[349.6,0.577],[350.2,0.601],[351.4,0.571],[352.3,0.594],[353.3,0.573],[354.2,0.612],[355.1,0.682],[356.1,0.682],[357,0.711],[357.9,0.763],[358.8,0.767],[359.7,0.723],[360.7,0.682],[361.6,0.682],[362.5,0.676],[363.3,0.682],[364.2,0.682],[365.1,0.67],[366,0.664],[366.9,0.629],[367.8,0.612],[368.7,0.594],[369.7,0.573],[370.6,0.612],[371.5,0.624],[372.4,0.635],[373.3,0.629],[374.2,0.641],[375.2,0.653],[376.1,0.641],[377,0.664],[377.9,0.659],[378.8,0.664],[379.7,0.676],[380.6,0.667],[381.5,0.682],[382.4,0.688],[383.3,0.676],[384.2,0.659],[385.1,0.682],[386.1,0.688],[387,0.67],[387.9,0.664],[393.3,0.664],[395.1,0.641],[396,0.635],[398.8,0.629],[399.7,0.612],[400,0.605]];

// ---------- drawing ----------
const MAGENTA = "#ff00ff", NAVY = "#000080";
const SANS = "'Liberation Sans',Arial,Helvetica,sans-serif";
const SERIF = "'Latin Modern Roman','CMU Serif','Liberation Serif','Times New Roman',serif";
const bPairsINT = bFrames.map((f,i)=>[f,bINT[i]]);
const bPairsPF = bFrames.map((f,i)=>[f,bPF[i]]);

const panels = [
  {id:"a", box:[8,8,509,345], plot:{l:56,r:500,t:25,b:306}, xDom:[0,500], xTicks:xTicksA,
   series:[{d:aINT,c:MAGENTA},{d:aPF,c:NAVY}], leg:legendAB, legBox:[458,27,42,31],
   fs:10.5, ypad:3.7, xpad:7.5, xt:{x:278,y:342,fs:8.7}, yt:{x:22.7,y:166,fs:9}, cap:{x:240.5,y:384}},
  {id:"b", box:[551,8,506,345], plot:{l:590,r:1045,t:23,b:310}, xDom:[10,118.1], xTicks:xTicksB,
   series:[{d:bPairsINT,c:MAGENTA},{d:bPairsPF,c:NAVY}], leg:legendAB, legBox:[1003,25,42,31],
   fs:10.5, ypad:2.7, xpad:7.5, xt:{x:817.7,y:345.7,fs:8.6}, yt:{x:557.3,y:166.7,fs:9}, cap:{x:782,y:384}},
  {id:"c", box:[8,428,509,326], plot:{l:52,r:503,t:447,b:711}, xDom:[380,680], xTicks:xTicksC,
   series:[{d:cIT,c:MAGENTA},{d:cGT,c:NAVY}], leg:legendCD, legBox:[463,448,39,31],
   fs:11, ypad:4.7, xpad:7, xt:{x:277.5,y:748.5,fs:9.5}, yt:{x:17.3,y:580,fs:10}, cap:{x:240.5,y:782}},
  {id:"d", box:[551,409,506,345], plot:{l:596,r:1035,t:424,b:710}, xDom:[0,400], xTicks:xTicksD,
   series:[{d:dIT,c:MAGENTA},{d:dGT,c:NAVY}], leg:legendCD, legBox:[994,426,40,30],
   fs:11, ypad:4, xpad:8, xt:{x:815.7,y:748.7,fs:10.4}, yt:{x:561,y:567,fs:10.9}, cap:{x:782,y:782}}
];

const svg = d3.select("#chart");
const defs = svg.append("defs");

panels.forEach((p,pi)=>{
  const g = svg.append("g");
  g.append("rect").attr("x",p.box[0]+0.5).attr("y",p.box[1]+0.5)
    .attr("width",p.box[2]).attr("height",p.box[3])
    .attr("fill","#fff").attr("stroke","#000").attr("stroke-width",1.2);

  const x = d3.scaleLinear().domain(p.xDom).range([p.plot.l,p.plot.r]);
  const y = d3.scaleLinear().domain([0,1]).range([p.plot.b,p.plot.t]);

  g.append("rect").attr("x",p.plot.l).attr("y",p.plot.t+0.5)
    .attr("width",p.plot.r-p.plot.l).attr("height",p.plot.b-p.plot.t)
    .attr("fill","none").attr("stroke","#a8a8a8").attr("stroke-width",1);

  g.append("g").selectAll("line").data(yTickValues.filter(v=>v>0)).join("line")
    .attr("x1",p.plot.l).attr("x2",p.plot.r)
    .attr("y1",d=>Math.round(y(d))+0.5).attr("y2",d=>Math.round(y(d))+0.5)
    .attr("stroke","#000").attr("stroke-width",1).attr("stroke-dasharray","3,2");

  defs.append("clipPath").attr("id","clip"+p.id).append("rect")
    .attr("x",p.plot.l).attr("y",p.plot.t-2).attr("width",p.plot.r-p.plot.l+1).attr("height",p.plot.b-p.plot.t+3);

  const line = d3.line().defined(d=>d!==null).x(d=>x(d[0])).y(d=>y(d[1]));
  const lg = g.append("g").attr("clip-path","url(#clip"+p.id+")");
  p.series.forEach(s=>{
    lg.append("path").attr("d",line(s.d)).attr("fill","none")
      .attr("stroke",s.c).attr("stroke-width",1.15).attr("stroke-linejoin","round");
  });

  const yAxis = d3.axisLeft(y).tickValues(yTickValues).tickFormat((d,i)=>yTickLabels[i])
    .tickSize(4).tickSizeOuter(0).tickPadding(p.ypad);
  const ya = g.append("g").attr("transform",`translate(${p.plot.l+0.5},0.5)`).call(yAxis);
  const xAxis = d3.axisBottom(x).tickValues(p.xTicks).tickFormat(d=>String(d))
    .tickSize(4).tickSizeOuter(0).tickPadding(p.xpad);
  const xa = g.append("g").attr("transform",`translate(0.5,${p.plot.b+0.5})`).call(xAxis);
  [ya,xa].forEach(a=>{
    a.attr("font-family",null).attr("font-size",null);
    a.selectAll("path").attr("stroke","#000").attr("stroke-width",1.2);
    a.selectAll("line").attr("stroke","#000");
    a.selectAll("text").style("font-size",p.fs+"px").style("font-family",SANS).attr("fill","#000");
  });

  g.append("text").attr("x",p.xt.x).attr("y",p.xt.y).attr("text-anchor","middle")
    .style("font-family",SANS).style("font-weight","bold").style("font-size",p.xt.fs+"px").text(xTitle);
  g.append("text").attr("transform",`translate(${p.yt.x},${p.yt.y}) rotate(-90)`)
    .attr("text-anchor","middle").attr("dominant-baseline","central")
    .style("font-family",SANS).style("font-weight","bold").style("font-size",p.yt.fs+"px").text(yTitle);

  const [lx,ly,lw,lh] = p.legBox;
  const leg = g.append("g");
  leg.append("rect").attr("x",lx+0.5).attr("y",ly+0.5).attr("width",lw).attr("height",lh)
    .attr("fill","#fff").attr("stroke","#000").attr("stroke-width",1);
  p.leg.forEach((name,i)=>{
    const cy = ly + 8 + i*15.5;
    leg.append("line").attr("x1",lx+2).attr("x2",lx+19).attr("y1",cy).attr("y2",cy)
      .attr("stroke",p.series[i].c).attr("stroke-width",1.2);
    leg.append("text").attr("x",lx+21).attr("y",cy).attr("dominant-baseline","central")
      .style("font-family",SANS).style("font-size","11px").text(name);
  });

  svg.append("text").attr("x",p.cap.x).attr("y",p.cap.y).attr("text-anchor","middle")
    .style("font-family",SERIF).style("font-size","27px").text(captions[pi]);
});
</script>
</body></html>
